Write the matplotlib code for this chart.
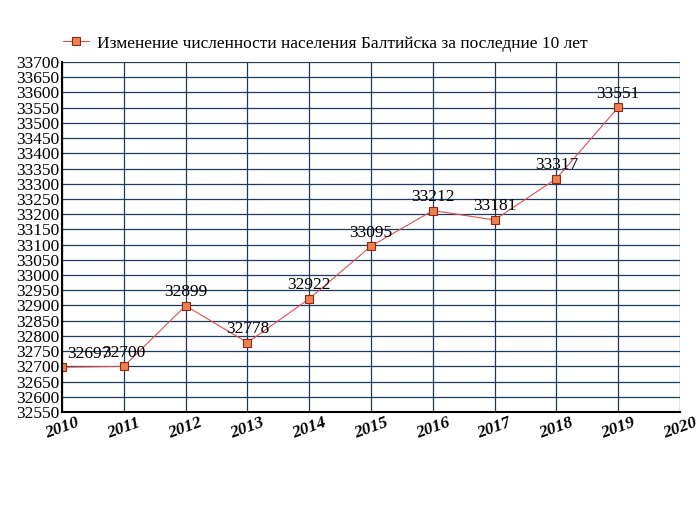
import matplotlib
matplotlib.use("Agg")
import matplotlib.pyplot as plt

years = [2010, 2011, 2012, 2013, 2014, 2015, 2016, 2017, 2018, 2019]
population = [32697, 32700, 32899, 32778, 32922, 33095, 33212, 33181, 33317, 33551]
xticks = list(range(2010, 2021))
yticks = list(range(32550, 33701, 50))

plt.rcParams["font.family"] = "Liberation Serif"
fig = plt.figure(figsize=(7, 5.15), dpi=100)
ax = fig.add_axes([62/700, 1-412/515, 618/700, 350/515])
ax.plot(years, population, color="#d9534f", lw=0.8, marker="s", ms=6,
        mfc="#f08050", mec="#8b2a10", mew=0.8,
        label="Изменение численности населения Балтийска за последние 10 лет")
for x, y in zip(years, population):
    ax.annotate(str(y), (x, y), xytext=(4 if x == 2010 else 0, 4), textcoords="offset points",
                fontsize=12.5, ha="left" if x == 2010 else "center", va="bottom",
                color="black")
ax.set_xlim(2010, 2020)
ax.set_ylim(32550, 33700)
ax.set_xticks(xticks)
ax.set_yticks(yticks)
ax.set_xticklabels([str(t) for t in xticks], rotation=20, fontsize=12.5,
                   fontweight="bold", fontstyle="italic")
ax.set_yticklabels([str(t) for t in yticks], fontsize=12.5)
ax.grid(True, color="#1f3a5f", lw=0.9)
for s in ["top", "right"]:
    ax.spines[s].set_visible(False)
ax.spines["left"].set_linewidth(1.5)
ax.spines["bottom"].set_linewidth(1.5)
ax.tick_params(length=0, pad=2)
ax.legend(loc="lower left", bbox_to_anchor=(-0.01, 1.01), frameon=False,
          fontsize=12.5, handlelength=1.5, handletextpad=0.5, borderaxespad=0)
fig.savefig("out.png", dpi=100)
